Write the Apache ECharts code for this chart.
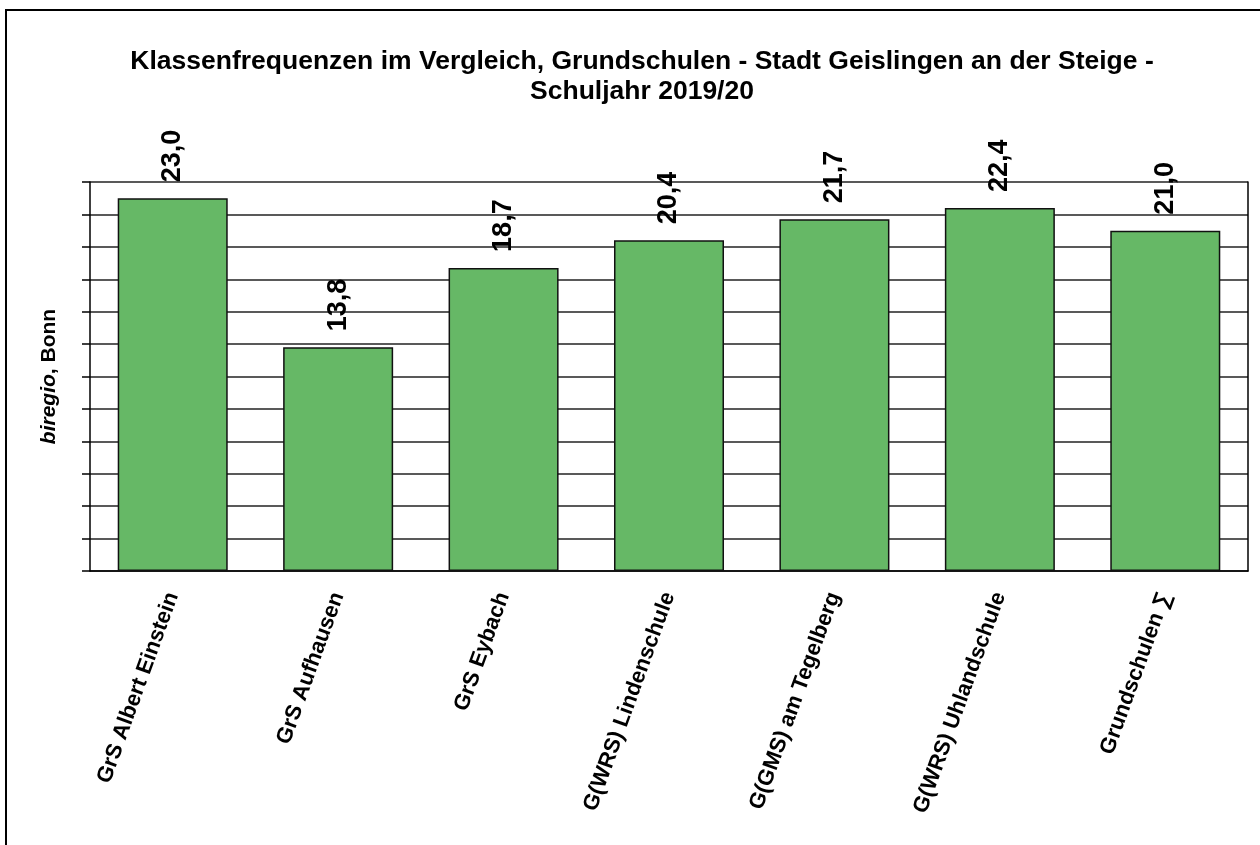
<!DOCTYPE html>
<html>
<head>
<meta charset="utf-8">
<script src="https://cdn.jsdelivr.net/npm/echarts@6/dist/echarts.min.js"></script>
<style>
  html, body { margin: 0; padding: 0; background: #fff; }
  #chart { width: 1260px; height: 845px; }
</style>
</head>
<body>
<div id="chart"></div>
<script>
const schools = ['GrS Albert Einstein', 'GrS Aufhausen', 'GrS Eybach', 'G(WRS) Lindenschule',
  'G(GMS) am Tegelberg', 'G(WRS) Uhlandschule', 'Grundschulen \u2211'];
const frequenz = [23.0, 13.8, 18.7, 20.4, 21.7, 22.4, 21.0];
const titleText = 'Klassenfrequenzen im Vergleich, Grundschulen - Stadt Geislingen an der Steige -\nSchuljahr 2019/20';

const font = "'Liberation Sans', Arial, sans-serif";
const chart = echarts.init(document.getElementById('chart'));

const option = {
  backgroundColor: '#fff',
  animation: false,
  textStyle: { fontFamily: font },
  title: {
    text: titleText,
    left: 637,
    top: 42,
    textAlign: 'center',
    textStyle: { fontSize: 26.5, fontWeight: 'bold', color: '#000', lineHeight: 30, fontFamily: font, align: 'center' }
  },
  graphic: [{
    type: 'rect',
    shape: { x: 6, y: 10, width: 1270, height: 860 },
    style: { fill: 'none', stroke: '#000', lineWidth: 2 },
    silent: true
  }],
  grid: { left: 90, right: 12, top: 182, bottom: 274 },
  xAxis: {
    type: 'category',
    data: schools,
    axisLine: { lineStyle: { color: '#000', width: 1.5 } },
    axisTick: { show: false },
    axisLabel: {
      rotate: 70,
      margin: 22,
      fontSize: 22,
      fontWeight: 'bold',
      color: '#000',
      fontFamily: font
    }
  },
  yAxis: [{
    type: 'value',
    min: 0,
    max: 24,
    interval: 2,
    name: '{i|biregio}{b|, Bonn}',
    nameLocation: 'middle',
    nameGap: 30,
    nameRotate: 90,
    nameTextStyle: {
      rich: {
        i: { fontStyle: 'italic', fontWeight: 'bold', fontSize: 21, color: '#000', fontFamily: font },
        b: { fontWeight: 'bold', fontSize: 21, color: '#000', fontFamily: font }
      }
    },
    axisLine: { show: true, lineStyle: { color: '#000', width: 1.5 } },
    axisTick: { show: true, inside: false, length: 8, lineStyle: { color: '#000', width: 1.5 } },
    axisLabel: { show: false },
    splitLine: { show: true, lineStyle: { color: '#222', width: 1.5 } }
  }, {
    type: 'value',
    position: 'right',
    min: 0,
    max: 24,
    interval: 2,
    axisLine: { show: true, lineStyle: { color: '#000', width: 1.5 } },
    axisTick: { show: false },
    axisLabel: { show: false },
    splitLine: { show: false }
  }],
  series: [{
    type: 'bar',
    data: frequenz,
    barCategoryGap: '33.5%',
    itemStyle: { color: '#66b866', borderColor: '#111', borderWidth: 1.5 },
    label: {
      show: true,
      position: 'top',
      distance: 16,
      rotate: 90,
      align: 'left',
      verticalAlign: 'middle',
      fontSize: 27,
      fontWeight: 'bold',
      color: '#000',
      fontFamily: font,
      formatter: p => p.value.toFixed(1).replace('.', ',')
    }
  }]
};

chart.setOption(option);
</script>
</body>
</html>
